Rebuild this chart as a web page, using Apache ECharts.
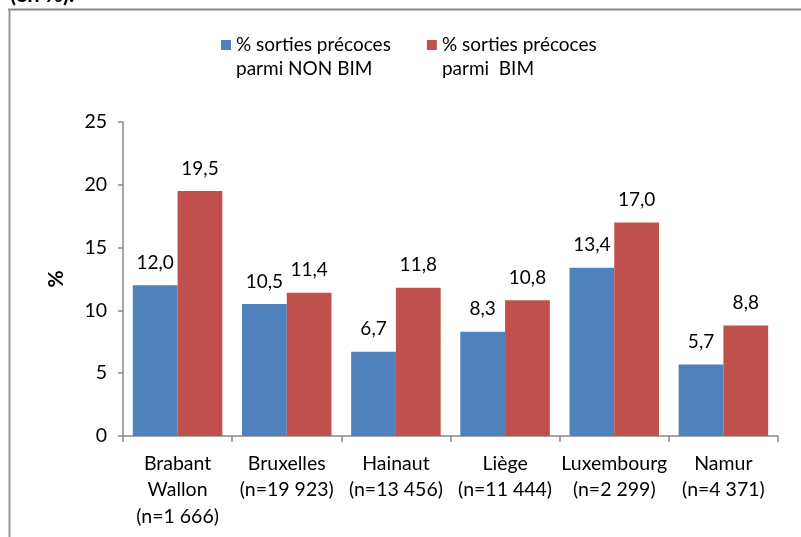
<!DOCTYPE html>
<html>
<head>
<meta charset="utf-8">
<script src="https://cdn.jsdelivr.net/npm/echarts@6/dist/echarts.min.js"></script>
<style>
  html, body { margin: 0; padding: 0; background: #fff; }
  #chart { width: 801px; height: 537px; }
</style>
</head>
<body>
<div id="chart"></div>
<script>
// Provinces and their group sizes
const regions = ['Brabant\nWallon', 'Bruxelles', 'Hainaut', 'Liège', 'Luxembourg', 'Namur'];
const counts = ['1 666', '19 923', '13 456', '11 444', '2 299', '4 371'];

// Early exits (%) per group
const nonBim = [12.0, 10.5, 6.7, 8.3, 13.4, 5.7];
const bim = [19.5, 11.4, 11.8, 10.8, 17.0, 8.8];

const seriesNames = ['% sorties précoces\nparmi NON BIM', '% sorties précoces\nparmi  BIM'];
const yTicks = [0, 5, 10, 15, 20, 25];

const categories = regions.map((r, i) => r + '\n(n=' + counts[i] + ')');
const FONT = 'Lato, "Liberation Sans", sans-serif';
const fmt = p => p.value.toFixed(1).replace('.', ',');

const chart = echarts.init(document.getElementById('chart'));
chart.setOption({
  animation: false,
  textStyle: { fontFamily: FONT, color: '#000' },
  grid: { left: 123, right: 23, top: 122, bottom: 101 },
  legend: {
    left: 216, top: 4,
    itemWidth: 10, itemHeight: 10, itemGap: 36,
    icon: 'rect',
    // leading blank line keeps the square level with the first text line
    formatter: name => '\n' + name,
    textStyle: { fontFamily: FONT, fontSize: 19, color: '#000', lineHeight: 24 },
    data: seriesNames
  },
  xAxis: {
    type: 'category',
    data: categories,
    axisLine: { lineStyle: { color: '#888', width: 1.5 } },
    axisTick: { show: true, length: 6, lineStyle: { color: '#888', width: 1.5 } },
    axisLabel: { fontFamily: FONT, fontSize: 19.5, color: '#000', lineHeight: 26.5, margin: 14, interval: 0 }
  },
  yAxis: {
    type: 'value',
    min: yTicks[0], max: yTicks[yTicks.length - 1], interval: 5,
    name: '%', nameLocation: 'middle', nameRotate: 90, nameGap: 56,
    nameTextStyle: { fontFamily: FONT, fontSize: 21, fontWeight: 'bold', color: '#000' },
    axisLine: { show: true, lineStyle: { color: '#888', width: 1.5 } },
    axisTick: { show: true, length: 5, lineStyle: { color: '#888', width: 1.5 } },
    splitLine: { show: false },
    axisLabel: { fontFamily: FONT, fontSize: 19.5, color: '#000', margin: 16 }
  },
  series: [
    {
      name: seriesNames[0], type: 'bar', data: nonBim,
      barGap: '0%', barCategoryGap: '18%',
      itemStyle: { color: '#4F81BD' },
      label: { show: true, position: 'top', distance: 13, formatter: fmt, fontFamily: FONT, fontSize: 19, color: '#000' }
    },
    {
      name: seriesNames[1], type: 'bar', data: bim,
      itemStyle: { color: '#C0504D' },
      label: { show: true, position: 'top', distance: 13, formatter: fmt, fontFamily: FONT, fontSize: 19, color: '#000' }
    }
  ],
  graphic: [
    { type: 'text', left: 10, top: -16, style: { text: '(en %).', font: 'bold 22px ' + FONT, fill: '#000' } },
    { type: 'line', shape: { x1: 8, y1: 9.5, x2: 801, y2: 9.5 }, style: { stroke: '#888', lineWidth: 2 } },
    { type: 'line', shape: { x1: 9.5, y1: 9, x2: 9.5, y2: 537 }, style: { stroke: '#999', lineWidth: 2 } }
  ]
});
</script>
</body>
</html>
